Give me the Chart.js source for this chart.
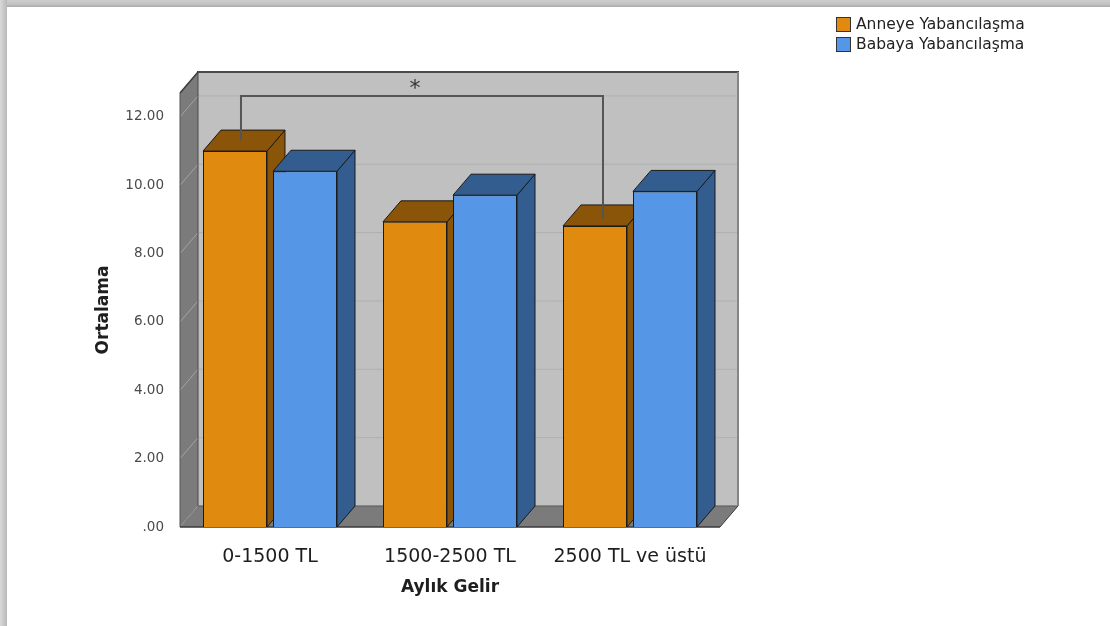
<!DOCTYPE html>
<html>
<head>
<meta charset="utf-8">
<script src="https://cdn.jsdelivr.net/npm/chart.js@4.4.1/dist/chart.umd.min.js"></script>
<style>
  html, body { margin: 0; padding: 0; background: #fff; overflow: hidden; }
  #wrap { position: relative; width: 1110px; height: 626px; }
  .bandTop { position: absolute; left: 0; top: 0; width: 1110px; height: 7px;
    background: linear-gradient(to bottom, #cdcdcd 0, #c4c4c4 4px, #a9a9a9 7px); }
  .bandLeft { position: absolute; left: 0; top: 0; width: 7px; height: 626px;
    background: linear-gradient(to right, #d9d9d9 0, #c2c2c2 5px, #b8b8b8 7px); }
</style>
</head>
<body>
<div id="wrap">
  <canvas id="myChart" width="1110" height="626"></canvas>
  <div class="bandTop"></div>
  <div class="bandLeft"></div>
</div>
<script>
// data
var categories = ["0-1500 TL", "1500-2500 TL", "2500 TL ve üstü"];
var anneValues = [11.00, 8.93, 8.81];
var babaValues = [10.41, 9.71, 9.82];
var yTicks = [0, 2, 4, 6, 8, 10, 12];
var seriesNames = ["Anneye Yabancılaşma", "Babaya Yabancılaşma"];
var sigPair = [0, 2];   // significant difference, first series
var sigLevel = 12;

var frontColors = ["#e08a10", "#5596e6"];
var darkColors = ["#8a5409", "#335d8f"];
var dx = 18, dy = -21;

function poly(ctx, pts, fill, stroke) {
  ctx.beginPath();
  ctx.moveTo(pts[0][0], pts[0][1]);
  for (var i = 1; i < pts.length; i++) ctx.lineTo(pts[i][0], pts[i][1]);
  ctx.closePath();
  if (fill) { ctx.fillStyle = fill; ctx.fill(); }
  if (stroke) { ctx.strokeStyle = stroke; ctx.lineWidth = 1; ctx.stroke(); }
}

function line(ctx, x1, y1, x2, y2, color, w) {
  ctx.beginPath();
  ctx.moveTo(x1, y1);
  ctx.lineTo(x2, y2);
  ctx.strokeStyle = color;
  ctx.lineWidth = w;
  ctx.stroke();
}

var box3d = {
  id: "box3d",
  beforeDatasetsDraw: function (chart) {
    var ctx = chart.ctx, a = chart.chartArea, ys = chart.scales.y;
    var L = a.left, R = a.right, T = a.top, B = a.bottom;
    ctx.save();
    // back wall
    ctx.fillStyle = "#c0c0c0";
    ctx.fillRect(L + dx, T + dy, R - L, B - T);
    yTicks.forEach(function (v) {
      var py = ys.getPixelForValue(v) + dy;
      line(ctx, L + dx, py, R + dx, py, "#b0b0b0", 1);
    });
    // left wall
    poly(ctx, [[L, B], [L, T], [L + dx, T + dy], [L + dx, B + dy]], "#7b7b7b");
    yTicks.forEach(function (v) {
      var py = ys.getPixelForValue(v);
      line(ctx, L, py, L + dx, py + dy, "#a3a3a3", 1);
    });
    // floor
    poly(ctx, [[L, B], [R, B], [R + dx, B + dy], [L + dx, B + dy]], "#7b7b7b");
    // edges
    line(ctx, L + dx, T + dy, L + dx, B + dy, "#4a4a4a", 1);
    line(ctx, L + dx, B + dy, R + dx, B + dy, "#5a5a5a", 1);
    line(ctx, L + dx - 1, T + dy, R + dx + 1, T + dy, "#4a4a4a", 2);
    line(ctx, L, T, L + dx, T + dy, "#3a3a3a", 1.5);
    line(ctx, R + dx, T + dy, R + dx, B + dy, "#858585", 2);
    line(ctx, L, T, L, B, "#555", 1);
    line(ctx, L, B, R, B, "#3a3a3a", 1.5);
    line(ctx, R, B, R + dx, B + dy, "#3a3a3a", 1);
    // tops and sides, first series then second; the fronts come after
    [0, 1].forEach(function (i) {
      chart.getDatasetMeta(i).data.forEach(function (bar) {
        var p = bar.getProps(["x", "y", "base", "width"], true);
        var l = p.x - p.width / 2, r = p.x + p.width / 2;
        poly(ctx, [[r, p.base], [r, p.y], [r + dx, p.y + dy], [r + dx, p.base + dy]], darkColors[i], "#1a1a1a");
        poly(ctx, [[l, p.y], [l + dx, p.y + dy], [r + dx, p.y + dy], [r, p.y]], darkColors[i], "#1a1a1a");
      });
    });
    ctx.restore();
  },
  afterDatasetsDraw: function (chart) {
    var ctx = chart.ctx, ys = chart.scales.y;
    var bars = chart.getDatasetMeta(0).data;
    var b1 = bars[sigPair[0]].getProps(["x", "y"], true);
    var b2 = bars[sigPair[1]].getProps(["x", "y"], true);
    var x1 = b1.x + 6, x2 = b2.x + 8;
    var yTop = ys.getPixelForValue(sigLevel) + dy;
    ctx.save();
    ctx.beginPath();
    ctx.moveTo(x1, b1.y + dy / 2);
    ctx.lineTo(x1, yTop);
    ctx.lineTo(x2, yTop);
    ctx.lineTo(x2, b2.y + dy / 2 + 3);
    ctx.strokeStyle = "#555";
    ctx.lineWidth = 2;
    ctx.stroke();
    ctx.fillStyle = "#333";
    ctx.font = "22px 'DejaVu Sans'";
    ctx.textAlign = "center";
    ctx.textBaseline = "middle";
    ctx.fillText("*", (x1 + x2) / 2 - 7, yTop - 7);
    ctx.restore();
  },
  afterDraw: function (chart) {
    var ctx = chart.ctx;
    ctx.save();
    ctx.font = "15.5px 'DejaVu Sans'";
    ctx.textBaseline = "middle";
    ctx.textAlign = "left";
    seriesNames.forEach(function (name, i) {
      var y = 17 + i * 20;
      ctx.fillStyle = frontColors[i];
      ctx.fillRect(836.5, y + 0.5, 14, 14);
      ctx.strokeStyle = "#333";
      ctx.lineWidth = 1;
      ctx.strokeRect(836.5, y + 0.5, 14, 14);
      ctx.fillStyle = "#222";
      ctx.fillText(name, 856, y + 8);
    });
    ctx.restore();
  }
};

new Chart("myChart", {
  type: "bar",
  data: {
    labels: categories,
    datasets: [{
      label: seriesNames[0],
      data: anneValues,
      backgroundColor: frontColors[0],
      borderColor: "#1a1a1a",
      borderWidth: 1
    }, {
      label: seriesNames[1],
      data: babaValues,
      backgroundColor: frontColors[1],
      borderColor: "#1a1a1a",
      borderWidth: 1
    }]
  },
  options: {
    responsive: false,
    animation: false,
    layout: { padding: { left: 90, top: 93, right: 390, bottom: 26 } },
    datasets: { bar: { categoryPercentage: 0.778, barPercentage: 0.914 } },
    plugins: { legend: { display: false }, tooltip: { enabled: false } },
    scales: {
      x: {
        grid: { display: false },
        border: { display: false },
        ticks: { color: "#1e1e1e", padding: 11, maxRotation: 0, autoSkip: false,
                 font: { family: "'DejaVu Sans'", size: 19 } },
        title: { display: true, text: "Aylık Gelir", color: "#1e1e1e",
                 padding: { top: 0, bottom: 2 },
                 font: { family: "'DejaVu Sans'", size: 17, weight: "bold" } },
        afterFit: function (s) { s.height = 73; }
      },
      y: {
        min: 0,
        max: 12.7,
        grid: { display: false },
        border: { display: false },
        ticks: { stepSize: 2, color: "#4a4a4a", padding: 8,
                 font: { family: "'DejaVu Sans'", size: 13.5 },
                 callback: function (v) { return v === 0 ? ".00" : v.toFixed(2); } },
        afterBuildTicks: function (s) {
          s.ticks = yTicks.map(function (v) { return { value: v }; });
        },
        title: { display: true, text: "Ortalama", color: "#1e1e1e",
                 padding: { top: 3, bottom: 0 },
                 font: { family: "'DejaVu Sans'", size: 17, weight: "bold" } },
        afterFit: function (s) { s.width = 90; }
      }
    }
  },
  plugins: [box3d]
});
</script>
</body>
</html>
